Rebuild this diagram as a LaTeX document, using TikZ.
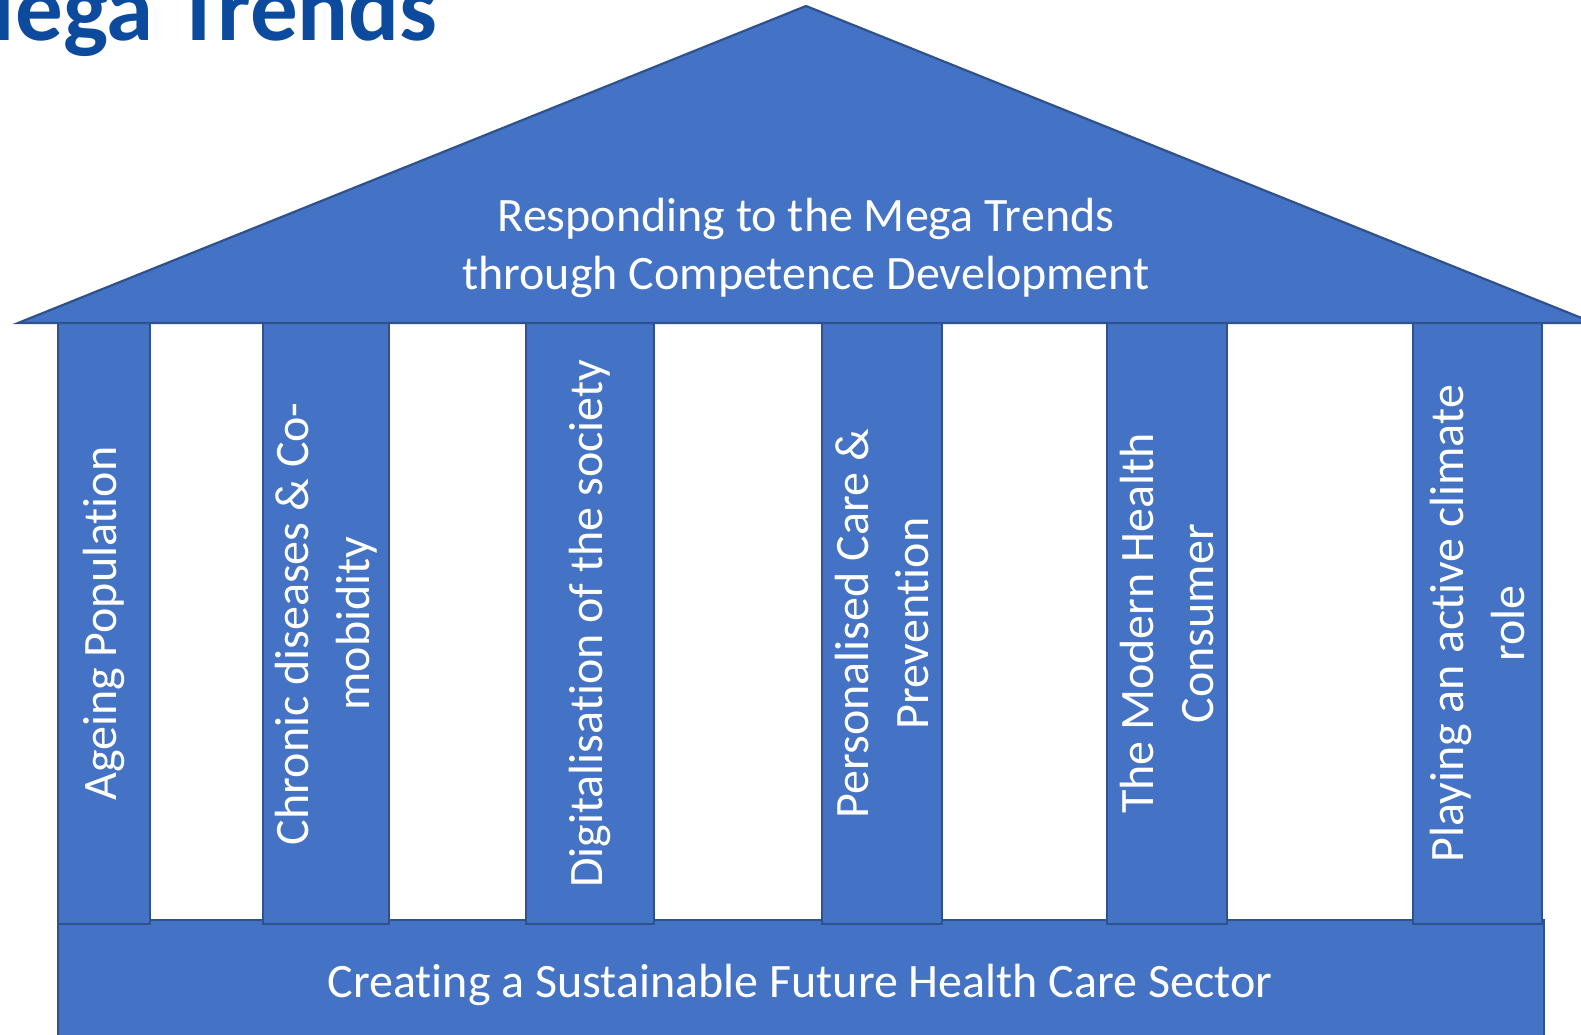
\documentclass[tikz,border=0pt]{standalone}
\usepackage{fontspec}
\setmainfont{Carlito}[Ligatures={NoCommon}]
\definecolor{pillarblue}{HTML}{4472C4}
\definecolor{edgeblue}{HTML}{2F528F}
\definecolor{titleblue}{HTML}{0B4A9C}
\begin{document}
\begin{tikzpicture}[x=1pt,y=-1pt,
  part/.style={fill=pillarblue, draw=edgeblue, line width=2.2pt},
  colbox/.style={part, rectangle, inner sep=0pt, minimum height=601pt, anchor=north west},
  lbl/.style={text=white, font=\fontsize{48}{57.5}\selectfont, align=center, inner sep=0pt},
  collbl/.style={lbl, font=\fontsize{48}{60.5}\selectfont, rotate=90}]
\useasboundingbox (0,0) rectangle (1581,1035);
\clip (0,0) rectangle (1581,1035);
% title
\node[anchor=base east, text=titleblue, font=\fontsize{95}{110}\selectfont\bfseries, inner sep=0pt] (title) at (438,41) {Mega Trends};
% base
\node[part, rectangle, inner sep=0pt, minimum width=1486pt, minimum height=140pt, anchor=north west] (base) at (57,919) {};
% columns
\node[colbox, minimum width=92pt] (c1) at (57,322) {};
\node[colbox, minimum width=126pt] (c2) at (262,322) {};
\node[colbox, minimum width=128pt] (c3) at (525,322) {};
\node[colbox, minimum width=120pt] (c4) at (821,322) {};
\node[colbox, minimum width=120pt] (c5) at (1106,322) {};
\node[colbox, minimum width=129pt] (c6) at (1412,322) {};
% roof
\draw[part, line join=miter] (18,323) -- (806,6) -- (1594,323) -- cycle;
% labels
\node[lbl] (roofText) at (806,248) {Responding to the Mega Trends\\through Competence Development};
\node[lbl] (baseText) at (800,985) {Creating a Sustainable Future Health Care Sector};
\node[collbl] (t1) at (c1.center) {Ageing Population};
\node[collbl] (t2) at (c2.center) {Chronic diseases \& Co-\\mobidity};
\node[collbl] (t3) at (c3.center) {Digitalisation of the society};
\node[collbl] (t4) at (c4.center) {Personalised Care \&\\Prevention};
\node[collbl] (t5) at (c5.center) {The Modern Health\\Consumer};
\node[collbl] (t6) at (c6.center) {Playing an active climate\\role};
\end{tikzpicture}
\end{document}
